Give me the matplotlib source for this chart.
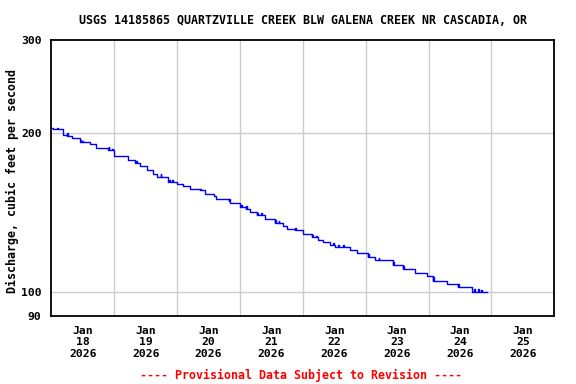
import numpy as np
import matplotlib
matplotlib.use('Agg')
import matplotlib.pyplot as plt

# discharge, stepwise levels (hours after Jan 18 00:00)
step_hours = [0, 0.75, 4.5, 6.0, 7.9, 11.0, 14.8, 17.1, 21.6, 23.9, 26.2, 29.3,
              32.0, 33.9, 36.6, 38.8, 40.3, 44.5, 47.9, 50.2, 52.9, 56.7, 58.6,
              62.1, 62.8, 68.2, 72.0, 74.3, 75.8, 78.5, 81.6, 85.4, 88.4, 89.9,
              93.0, 96.0, 99.5, 101.8, 103.7, 106.4, 108.3, 114.0, 116.6, 120.8,
              123.5, 130.4, 134.2, 138.8, 143.4, 145.7, 151.1, 155.3, 160.6, 166.3]
step_flow = [204.2, 202.8, 198.1, 196.7, 195.5, 191.9, 190.1, 186.9, 185.4, 181.0,
             180.3, 177.7, 175.6, 172.8, 169.8, 167.0, 165.0, 161.0, 159.8, 158.7,
             156.4, 155.5, 153.4, 151.7, 149.5, 146.9, 144.8, 143.6, 141.4, 139.6,
             137.3, 134.8, 133.1, 131.7, 130.8, 128.4, 126.7, 125.3, 124.0, 122.8,
             121.6, 120.2, 118.5, 116.4, 114.7, 112.5, 110.6, 108.7, 106.9, 104.6,
             103.6, 102.0, 99.8, 99.8]

# short single-reading upticks seen along the trace
spike_hours = [2.2, 6.1, 11.2, 12.0, 21.9, 23.3, 32.5, 41.7, 45.0, 46.2, 56.8,
               67.7, 72.5, 74.5, 78.6, 80.0, 85.5, 86.8, 93.2, 99.7, 101.0, 107.5,
               109.4, 111.4, 120.9, 123.0, 125.0, 130.6, 134.4, 145.8, 149.3,
               155.4, 161.5, 162.9, 164.1]
spike_flow = [204.0, 199.5, 193.5, 193.2, 187.5, 186.5, 177.0, 167.0, 163.0, 162.5,
              156.8, 148.5, 146.0, 145.0, 141.2, 140.8, 136.5, 136.0, 132.0, 128.0,
              127.5, 123.5, 122.8, 122.6, 118.0, 116.2, 116.0, 114.0, 112.0, 106.5,
              105.0, 103.5, 101.2, 101.4, 101.0]

day_labels = ['Jan\n18\n2026', 'Jan\n19\n2026', 'Jan\n20\n2026', 'Jan\n21\n2026',
              'Jan\n22\n2026', 'Jan\n23\n2026', 'Jan\n24\n2026', 'Jan\n25\n2026']
y_ticks = [90, 100, 200, 300]

# merge spikes into the step series (each spike lasts one 15-minute reading)
t = list(step_hours)
v = list(step_flow)
for sh, sv in zip(spike_hours, spike_flow):
    i = np.searchsorted(step_hours, sh, side='right') - 1
    base = step_flow[i]
    t += [sh, sh + 0.25]
    v += [sv, base]
order = np.argsort(t, kind='stable')
t = np.array(t)[order]
v = np.array(v)[order]

plt.rcParams['font.family'] = 'DejaVu Sans Mono'
plt.rcParams['font.weight'] = 'bold'

fig = plt.figure(figsize=(5.76, 3.84), dpi=100)
ax = fig.add_axes([0.0891, 0.1771, 0.8732, 0.72])

ax.plot(t, v, drawstyle='steps-post', color='#0000ff', lw=1.0)

ax.set_yscale('log')
ax.set_ylim(90, 300)
ax.set_xlim(0, 192)
ax.set_yticks(y_ticks)
ax.set_yticklabels([str(y) for y in y_ticks])
ax.yaxis.set_minor_locator(matplotlib.ticker.NullLocator())

ax.set_xticks(np.arange(8) * 24 + 12)
ax.set_xticklabels(day_labels)
ax.set_xticks(np.arange(1, 8) * 24, minor=True)

ax.grid(False)
for d in range(1, 8):
    ax.axvline(d * 24, color='#cccccc', lw=1.0, zorder=0)
for y in [100, 200]:
    ax.axhline(y, color='#cccccc', lw=1.0, zorder=0)

ax.tick_params(axis='both', which='both', length=0, labelsize=8.2)
ax.tick_params(axis='x', pad=7)
ax.tick_params(axis='y', pad=7)
for s in ax.spines.values():
    s.set_linewidth(1.3)

ax.set_title('USGS 14185865 QUARTZVILLE CREEK BLW GALENA CREEK NR CASCADIA, OR',
             fontsize=8.4, fontweight='bold', pad=11)
fig.text(12 / 576, 1 - 181 / 384, 'Discharge, cubic feet per second',
         rotation=90, ha='center', va='center', fontsize=8.4, fontweight='bold')
fig.text(301 / 576, 1 - 375 / 384, '---- Provisional Data Subject to Revision ----',
         ha='center', va='center', fontsize=8.4, fontweight='bold', color='#ff0000')

fig.savefig('out.png', dpi=100)
